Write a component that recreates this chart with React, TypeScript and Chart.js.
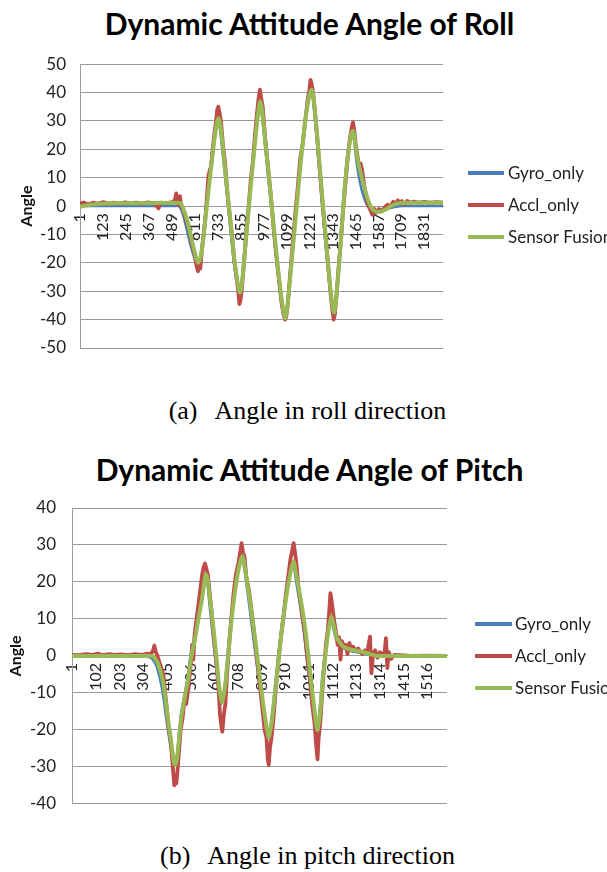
import React, { useEffect, useRef } from "react";
import { Chart, registerables } from "chart.js";

Chart.register(...registerables);

// ---------- Data ----------
const SERIES_NAMES = ["Gyro_only", "Accl_only", "Sensor Fusion"];

const ROLL_TITLE = "Dynamic Attitude Angle of Roll";
const PITCH_TITLE = "Dynamic Attitude Angle of Pitch";
const ROLL_CAPTION = "(a)";
const ROLL_CAPTION_TEXT = "Angle in roll direction";
const PITCH_CAPTION = "(b)";
const PITCH_CAPTION_TEXT = "Angle in pitch direction";
const Y_TITLE = "Angle";

const ROLL_COUNT = 1930;
const ROLL_X_TICKS = [1, 123, 245, 367, 489, 611, 733, 855, 977, 1099, 1221, 1343, 1465, 1587, 1709, 1831];
const ROLL_Y_MIN = -50;
const ROLL_Y_MAX = 50;

const PITCH_COUNT = 1600;
const PITCH_X_TICKS = [1, 102, 203, 304, 405, 506, 607, 708, 809, 910, 1011, 1112, 1213, 1314, 1415, 1516];
const PITCH_Y_MIN = -40;
const PITCH_Y_MAX = 40;

const ROLL_GYRO: [number, number][] = [
  [1, 0], [500, 0], [525, 0], [540, -1.5], [560, -6], [585, -13], [610, -18.5], [627, -20.5], [640, -18],
  [658, -8], [680, 6], [702, 19], [722, 28], [734, 30.5], [745, 27], [768, 13], [792, -3], [817, -19],
  [838, -28], [850, -30.5], [860, -27], [882, -10], [908, 8], [932, 25], [948, 33], [957, 36], [966, 33],
  [988, 19], [1018, -1], [1048, -21], [1073, -35], [1089, -39.5], [1100, -36], [1122, -20], [1147, -2],
  [1172, 16], [1198, 31], [1218, 38.5], [1230, 40], [1242, 36], [1262, 21], [1287, 1], [1312, -18],
  [1333, -31.5], [1349, -38], [1360, -33], [1382, -14], [1402, 4], [1422, 18], [1440, 25], [1449, 26],
  [1458, 23], [1472, 15], [1490, 8], [1510, 3], [1530, 0], [1550, -1.5], [1575, -2], [1600, -1.8],
  [1640, -0.8], [1680, -0.2], [1720, 0], [1930, 0],
];

const ROLL_ACCL: [number, number][] = [
  [1, 0.8], [20, 1.3], [45, 0.6], [70, 1.2], [95, 0.9], [125, 1.4], [150, 0.8], [180, 1.2], [210, 0.9],
  [240, 1.3], [270, 1], [300, 1.2], [330, 0.8], [360, 1.3], [395, 1], [418, -0.8], [428, 1.2], [460, 1],
  [490, 1.4], [505, 2], [512, 4.5], [518, 0.5], [524, 2.5], [532, 3.5], [538, 0], [550, -1.5], [565, -5],
  [580, -8], [595, -13], [610, -17], [620, -21], [628, -23], [634, -21.5], [640, -22], [648, -16],
  [660, -9], [670, -2], [678, 6], [684, 11], [690, 12.5], [698, 14], [706, 20], [716, 26], [724, 30],
  [730, 34], [736, 35], [742, 33], [750, 30], [760, 22], [772, 15], [785, 4], [798, -4], [810, -11],
  [822, -20], [832, -25], [842, -30], [848, -34.5], [854, -33], [860, -30], [870, -22], [882, -12],
  [895, -2], [908, 9], [920, 16], [932, 26], [942, 33], [950, 38], [957, 41], [964, 38], [972, 35],
  [985, 24], [1000, 14], [1015, 4], [1030, -8], [1045, -18], [1060, -27], [1072, -34], [1082, -38],
  [1090, -40], [1097, -39], [1105, -35], [1118, -24], [1132, -13], [1146, -2], [1160, 8], [1172, 17],
  [1185, 22], [1198, 30], [1210, 37], [1220, 41], [1226, 44.5], [1232, 43], [1240, 40], [1250, 33],
  [1262, 24], [1275, 13], [1290, 1], [1305, -10], [1320, -21], [1333, -31], [1343, -37], [1349, -40],
  [1356, -38], [1364, -32], [1375, -22], [1388, -12], [1400, -1], [1412, 8], [1424, 17], [1436, 24],
  [1446, 28], [1452, 29.5], [1458, 27], [1466, 22], [1475, 18], [1485, 14], [1492, 15], [1500, 13],
  [1510, 8], [1520, 4], [1532, 0.5], [1545, -1.5], [1555, -3], [1565, -1], [1575, -2.3], [1590, -1],
  [1605, -1.8], [1620, -0.5], [1635, 0.5], [1650, -0.2], [1665, 1.5], [1680, 0.8], [1690, 2], [1700, 1],
  [1712, 1.8], [1725, 0.6], [1740, 1.8], [1755, 1.2], [1775, 1.6], [1800, 1.2], [1830, 1.5], [1860, 1.2],
  [1900, 1.4], [1930, 1.2],
];

const ROLL_FUSION: [number, number][] = [
  [1, -0.2], [40, 0.3], [100, 0.8], [200, 1], [300, 1], [400, 1.1], [515, 1.2], [535, 1], [550, -1],
  [570, -5], [595, -12], [615, -17.5], [629, -20], [642, -18], [660, -9], [683, 5], [705, 18], [725, 28],
  [736, 31], [748, 28], [770, 14], [795, -2], [820, -18], [840, -27.5], [851, -30.5], [862, -27],
  [885, -10], [910, 8], [935, 25], [950, 34], [958, 37], [968, 34], [990, 20], [1020, 0], [1050, -20],
  [1075, -34], [1090, -39.5], [1102, -36], [1125, -20], [1150, -2], [1175, 16], [1200, 31], [1220, 39],
  [1232, 41], [1244, 37], [1265, 22], [1290, 2], [1315, -17], [1335, -31], [1351, -37.5], [1362, -33],
  [1385, -14], [1405, 4], [1425, 18], [1443, 25.5], [1451, 26.5], [1460, 24], [1475, 17], [1495, 11],
  [1515, 6], [1535, 1.5], [1555, -1], [1575, -1.9], [1600, -1.9], [1630, -1], [1660, 0.2], [1700, 1.1],
  [1760, 1.2], [1930, 1.2],
];

const PITCH_GYRO: [number, number][] = [
  [1, 0], [300, 0], [330, -0.3], [345, -1], [362, -3], [385, -9], [405, -18], [422, -25], [434, -29],
  [440, -29.5], [448, -27], [465, -16], [482, -10], [494, -6], [506, 0], [522, 5], [537, 10.5], [552, 16],
  [563, 20.5], [569, 22], [576, 21], [587, 14], [602, 5], [616, -3.5], [628, -10], [638, -13], [648, -10],
  [660, -3], [672, 6], [688, 15], [707, 23], [724, 27], [737, 23], [758, 13], [782, 1], [803, -9],
  [822, -17.5], [837, -22], [848, -19], [867, -8], [887, 4], [903, 12], [922, 20], [942, 25.5], [957, 20],
  [980, 11], [996, 3], [1010, -5], [1027, -13], [1044, -20], [1055, -16], [1068, -6], [1082, 2], [1090, 6],
  [1104, 10], [1115, 7.5], [1127, 4.5], [1143, 3], [1158, 2.2], [1200, 1.2], [1250, 0.6], [1300, 0.1],
  [1600, 0],
];

const PITCH_ACCL: [number, number][] = [
  [1, 0.3], [30, 0.2], [60, 0.5], [90, 0.3], [110, 0.6], [130, 0.2], [160, 0.5], [180, 0.3], [210, 0.4],
  [240, 0.2], [270, 0.5], [300, 0.3], [320, 0.6], [335, 0.5], [345, 1.2], [352, 2.8], [358, 1], [364, 0.3],
  [372, -1.5], [380, -3], [390, -5], [398, -10], [405, -14], [412, -19], [420, -22], [428, -28], [433, -32],
  [437, -35], [441, -33], [446, -34.5], [452, -30], [458, -25], [464, -20], [472, -17], [480, -12],
  [488, -13], [496, -9], [503, -5], [508, -2], [513, 3], [518, -1], [524, 6], [532, 10], [540, 14],
  [548, 18], [556, 22], [562, 24], [568, 25], [574, 23.5], [580, 22], [588, 17], [596, 12], [604, 6],
  [612, 1], [620, -4], [626, -9], [632, -16], [638, -19], [642, -20.5], [648, -16], [655, -13], [662, -5],
  [670, 2], [680, 10], [690, 17], [700, 22], [710, 25], [718, 28], [724, 30.5], [730, 28], [736, 27],
  [745, 21], [755, 18], [765, 13], [778, 6], [790, -1], [802, -8], [814, -15], [822, -20], [830, -22],
  [836, -28], [840, -29.5], [845, -25], [852, -22], [860, -17], [870, -9], [882, -1], [892, 5], [902, 10],
  [912, 16], [922, 21], [932, 26], [940, 28.5], [946, 30.5], [952, 28], [958, 25], [966, 19], [975, 15],
  [985, 10], [995, 6], [1005, -1], [1015, -6], [1025, -13], [1035, -18], [1042, -24], [1048, -28],
  [1053, -22], [1060, -18], [1068, -10], [1076, -3], [1084, 3], [1092, 7], [1098, 12], [1103, 17],
  [1108, 15], [1114, 12], [1120, 9], [1128, 6], [1134, 3], [1140, 5], [1146, -1], [1152, 4], [1160, 2.5],
  [1168, 3], [1176, 0.5], [1184, 3.5], [1192, 1.5], [1200, 2.5], [1210, 1.5], [1222, 2], [1232, 1],
  [1240, 0.5], [1250, 1.5], [1262, 1.5], [1272, 5.2], [1278, -4.7], [1285, 0.5], [1294, 1.5], [1304, -0.5],
  [1314, 1], [1324, 0.5], [1334, 0.8], [1340, 4.8], [1346, -3.3], [1352, 1], [1362, -0.8], [1375, 0.3],
  [1400, 0.2], [1450, 0], [1500, 0.1], [1600, 0],
];

const PITCH_FUSION: [number, number][] = [
  [1, 0], [100, 0], [200, 0], [300, 0], [340, 0], [350, -0.3], [367, -2], [389, -7], [410, -17],
  [425, -24], [436, -29], [442, -29.5], [450, -27], [468, -16], [485, -10], [497, -6], [510, 0],
  [525, 4.5], [540, 10], [554, 15], [565, 20], [571, 22], [578, 21], [590, 15], [605, 7], [619, -2],
  [630, -9], [640, -12.5], [650, -10], [662, -3], [675, 6], [691, 15], [710, 23], [727, 27], [740, 23],
  [762, 14], [785, 3], [806, -8], [825, -17], [839, -22], [850, -19], [870, -8], [890, 4], [906, 12],
  [925, 20], [945, 25.5], [960, 21], [985, 12], [1000, 5], [1014, -3], [1030, -12], [1047, -20],
  [1058, -16], [1071, -6], [1085, 2], [1093, 6], [1107, 10.5], [1118, 8], [1129, 5], [1145, 3.5],
  [1158, 2.5], [1185, 1.8], [1215, 1.4], [1245, 1], [1273, 0.5], [1301, 0], [1350, 0], [1600, 0],
];

// ---------- Styles ----------
const COLORS = ["#4A7EBB", "#BE4B48", "#98B954"];
const LINE_WIDTHS = [2.5, 3.8, 4];
const TENSIONS = [0.25, 0, 0.25];
const ORDERS = [2, 1, 0];
const GRID = "#9a9a9a";
const TEXT = "#222";
const FONT = "Lato, 'Open Sans', sans-serif";
const SERIF = "'Times New Roman', 'Liberation Serif', serif";

type Cfg = {
  top: number;
  height: number;
  padTop: number;
  padBottom: number;
  padRight: number;
  axisWidth: number;
  titlePad: number;
  tickPad: number;
  count: number;
  xTicks: number[];
  yMin: number;
  yMax: number;
  series: [number, number][][];
  legend: { top: number; gap: number; x0: number; x1: number; tx: number };
};

const sideLegend = {
  id: "sideLegend",
  afterDraw(chart: any, _args: any, opts: any) {
    const ctx = chart.ctx;
    ctx.save();
    chart.data.datasets.forEach((ds: any, i: number) => {
      const y = opts.top + i * opts.gap;
      ctx.strokeStyle = ds.borderColor;
      ctx.lineWidth = 4;
      ctx.lineCap = "butt";
      ctx.beginPath();
      ctx.moveTo(opts.x0, y);
      ctx.lineTo(opts.x1, y);
      ctx.stroke();
      ctx.fillStyle = TEXT;
      ctx.font = `17px ${FONT}`;
      ctx.textBaseline = "middle";
      ctx.textAlign = "left";
      ctx.fillText(ds.label, opts.tx, y + 1);
    });
    ctx.restore();
  },
};

function AttitudeChart({ cfg }: { cfg: Cfg }) {
  const ref = useRef<HTMLCanvasElement | null>(null);
  useEffect(() => {
    let chart: Chart | null = null;
    let cancelled = false;
    const build = () => {
      if (cancelled || !ref.current) return;
      chart = new Chart(ref.current, {
        type: "line",
        data: {
          datasets: SERIES_NAMES.map((name, i) => ({
            label: name,
            data: cfg.series[i] as any,
            borderColor: COLORS[i],
            backgroundColor: COLORS[i],
            borderWidth: LINE_WIDTHS[i],
            borderJoinStyle: "round" as const,
            borderCapStyle: "round" as const,
            pointRadius: 0,
            tension: TENSIONS[i],
            order: ORDERS[i],
            fill: false,
          })),
        },
        options: {
          animation: false,
          responsive: false,
          events: [],
          layout: { padding: { top: cfg.padTop, bottom: cfg.padBottom, left: 0, right: cfg.padRight } },
          plugins: {
            legend: { display: false },
            tooltip: { enabled: false },
            sideLegend: cfg.legend,
          } as any,
          scales: {
            x: {
              type: "linear",
              min: 0.5,
              max: cfg.count + 0.5,
              position: { y: 0 } as any,
              grid: { display: false, drawTicks: false },
              border: { display: true, color: GRID, width: 1 },
              afterBuildTicks: (s: any) => {
                s.ticks = cfg.xTicks.map((v) => ({ value: v }));
              },
              ticks: {
                autoSkip: false,
                minRotation: 90,
                maxRotation: 90,
                padding: 7,
                color: TEXT,
                font: { family: FONT, size: 16 },
                callback: (v: any) => String(v),
              },
            },
            y: {
              type: "linear",
              min: cfg.yMin,
              max: cfg.yMax,
              afterFit: (s: any) => {
                s.width = cfg.axisWidth;
              },
              grid: { color: GRID, drawTicks: false },
              border: { display: true, color: GRID, width: 1 },
              ticks: {
                stepSize: 10,
                padding: cfg.tickPad,
                color: TEXT,
                font: { family: FONT, size: 17 },
              },
              title: {
                display: true,
                text: Y_TITLE,
                color: "#111",
                font: { family: FONT, size: 16, weight: "bold" },
                padding: { top: cfg.titlePad, bottom: 0 },
              },
            },
          },
        },
        plugins: [sideLegend],
      });
    };
    const fontsApi = (document as any).fonts;
    if (fontsApi && fontsApi.load) {
      Promise.all([fontsApi.load(`16px Lato`), fontsApi.load(`bold 16px Lato`)])
        .catch(() => null)
        .then(build);
    } else build();
    return () => {
      cancelled = true;
      if (chart) chart.destroy();
    };
  }, [cfg]);
  return (
    <canvas
      ref={ref}
      width={607}
      height={cfg.height}
      style={{ position: "absolute", left: 0, top: cfg.top, width: 607, height: cfg.height }}
    />
  );
}

const ROLL_CFG: Cfg = {
  top: 40,
  height: 340,
  padTop: 21,
  padBottom: 32,
  padRight: 164,
  axisWidth: 80,
  titlePad: 17,
  tickPad: 14,
  count: ROLL_COUNT,
  xTicks: ROLL_X_TICKS,
  yMin: ROLL_Y_MIN,
  yMax: ROLL_Y_MAX,
  series: [ROLL_GYRO, ROLL_ACCL, ROLL_FUSION],
  legend: { top: 133, gap: 32, x0: 468, x1: 504, tx: 508 },
};

const PITCH_CFG: Cfg = {
  top: 478,
  height: 352,
  padTop: 30,
  padBottom: 25,
  padRight: 160,
  axisWidth: 72,
  titlePad: 6,
  tickPad: 16,
  count: PITCH_COUNT,
  xTicks: PITCH_X_TICKS,
  yMin: PITCH_Y_MIN,
  yMax: PITCH_Y_MAX,
  series: [PITCH_GYRO, PITCH_ACCL, PITCH_FUSION],
  legend: { top: 146, gap: 32, x0: 475, x1: 512, tx: 515 },
};

function Title({ text, top, size }: { text: string; top: number; size: number }) {
  return (
    <div
      style={{
        position: "absolute",
        left: 6,
        top,
        width: 607,
        textAlign: "center",
        font: `bold ${size}px ${FONT}`,
        lineHeight: `${size}px`,
        color: "#000",
        whiteSpace: "nowrap",
      }}
    >
      {text}
    </div>
  );
}

function Caption({ tag, text, top }: { tag: string; text: string; top: number }) {
  return (
    <div
      style={{
        position: "absolute",
        left: 4,
        top,
        width: 607,
        textAlign: "center",
        fontFamily: SERIF,
        fontSize: 26,
        lineHeight: "26px",
        color: "#000",
        whiteSpace: "nowrap",
      }}
    >
      <span>{tag}</span>
      <span style={{ marginLeft: 17 }}>{text}</span>
    </div>
  );
}

export default function App() {
  return (
    <div style={{ position: "absolute", left: 0, top: 0, width: 607, height: 872, background: "#fff", overflow: "hidden" }}>
      <Title text={ROLL_TITLE} top={8} size={30} />
      <AttitudeChart cfg={ROLL_CFG} />
      <Caption tag={ROLL_CAPTION} text={ROLL_CAPTION_TEXT} top={398} />
      <Title text={PITCH_TITLE} top={454} size={30} />
      <AttitudeChart cfg={PITCH_CFG} />
      <Caption tag={PITCH_CAPTION} text={PITCH_CAPTION_TEXT} top={843} />
    </div>
  );
}
